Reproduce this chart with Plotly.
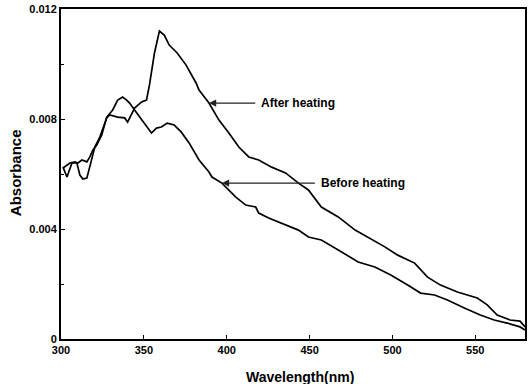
import plotly.graph_objects as go

# Wavelength (nm) and absorbance values
after_x = [301.2, 303.6, 306.6, 309.6, 311.4, 313.2, 315.6, 317.4, 320.4, 323.4, 327.6, 329.4,
           334.2, 338.4, 340.2, 344.4, 348.6, 351.6, 353.4, 356.4, 359.4, 362.3, 365.3, 370.1,
           375.5, 381.5, 383.3, 389.3, 395.3, 401.3, 407.3, 413.3, 419.3, 427.1, 435.5, 443.3,
           449.3, 457.1, 467.3, 477.5, 485.2, 495.4, 503.2, 513.4, 521.2, 529.0, 539.2, 551.2,
           557.2, 563.2, 571.0, 577.0, 580.0]
after_y = [0.00625, 0.00589, 0.00640, 0.00640, 0.00596, 0.00582, 0.00585, 0.00625, 0.00698,
           0.00734, 0.00804, 0.00815, 0.00807, 0.00804, 0.00789, 0.00840, 0.00862, 0.00869,
           0.00924, 0.01040, 0.01120, 0.01105, 0.01069, 0.01040, 0.00996, 0.00931, 0.00905,
           0.00858, 0.00796, 0.00749, 0.00698, 0.00662, 0.00651, 0.00625, 0.00604, 0.00567,
           0.00542, 0.00480, 0.00444, 0.00396, 0.00371, 0.00335, 0.00305, 0.00276, 0.00225,
           0.00196, 0.00171, 0.00149, 0.00124, 0.00087, 0.00069, 0.00065, 0.00044]

before_x = [301.2, 305.4, 308.4, 310.2, 312.6, 315.6, 317.4, 319.2, 321.6, 324.6, 327.6, 331.2,
            334.2, 337.2, 339.6, 341.4, 344.4, 347.4, 349.2, 354.6, 357.6, 360.6, 364.1, 368.3,
            372.5, 377.3, 383.3, 389.3, 391.1, 397.1, 405.5, 411.5, 417.5, 419.3, 425.3, 434.3,
            443.3, 449.3, 457.1, 467.3, 479.3, 489.4, 499.0, 509.2, 517.0, 525.4, 533.2, 543.4,
            553.0, 561.4, 569.2, 577.0, 580.0]
before_y = [0.00622, 0.00640, 0.00644, 0.00640, 0.00651, 0.00644, 0.00662, 0.00687, 0.00705,
            0.00742, 0.00807, 0.00833, 0.00869, 0.00880, 0.00869, 0.00858, 0.00833, 0.00807,
            0.00796, 0.00749, 0.00767, 0.00771, 0.00785, 0.00778, 0.00753, 0.00713, 0.00651,
            0.00607, 0.00589, 0.00567, 0.00516, 0.00487, 0.00480, 0.00458, 0.00440, 0.00418,
            0.00396, 0.00371, 0.00360, 0.00324, 0.00280, 0.00262, 0.00233, 0.00196, 0.00167,
            0.00160, 0.00142, 0.00113, 0.00087, 0.00069, 0.00058, 0.00044, 0.00033]

x_ticks = [300, 350, 400, 450, 500, 550]
x_tick_text = ["300", "350", "400", "450", "500", "550"]
y_ticks = [0, 0.004, 0.008, 0.012]
y_tick_text = ["0", "0.004", "0.008", "0.012"]

labels = ["After heating", "Before heating"]
label_y = [0.00858, 0.00567]
arrow_head_x = [389.3, 397.1]
arrow_tail_x = [418.1, 454.1]

FONT = "Liberation Sans"

fig = go.Figure()
fig.add_trace(go.Scatter(x=after_x, y=after_y, mode="lines", line=dict(color="black", width=1.7),
                         name="After heating", showlegend=False))
fig.add_trace(go.Scatter(x=before_x, y=before_y, mode="lines", line=dict(color="black", width=1.7),
                         name="Before heating", showlegend=False))

for txt, yv, hx, tx in zip(labels, label_y, arrow_head_x, arrow_tail_x):
    fig.add_annotation(x=hx, y=yv, ax=tx, ay=yv, xref="x", yref="y", axref="x", ayref="y",
                       text="", showarrow=True, arrowhead=2, arrowsize=1.2, arrowwidth=1.2,
                       arrowcolor="#222")
    fig.add_annotation(x=tx + 1.5, y=yv, xref="x", yref="y", text=txt, showarrow=False,
                       xanchor="left", yanchor="middle",
                       font=dict(family=FONT, size=12, color="black", weight="bold"))

# axis titles placed as annotations to match the reference position
fig.add_annotation(x=444, y=-0.115, xref="x", yref="paper", text="Wavelength(nm)",
                   showarrow=False, xanchor="center", yanchor="middle",
                   font=dict(family=FONT, size=14, color="black", weight="bold"))
fig.add_annotation(x=-46, y=0.503, xref="paper", yref="paper", xshift=0, text="Absorbance",
                   showarrow=False, textangle=-90, xanchor="center", yanchor="middle",
                   font=dict(family=FONT, size=15, color="black", weight="bold"))

fig.update_layout(
    width=530, height=384,
    margin=dict(l=61, r=3, t=9, b=45),
    paper_bgcolor="white", plot_bgcolor="white",
    font=dict(family=FONT, color="black"),
)
# put the y title at pixel x ~15: convert via paper fraction of plot width (466 px)
fig.layout.annotations[-1].x = (15 - 61) / 466

fig.update_xaxes(range=[300, 580], tickvals=x_ticks, ticktext=x_tick_text,
                 ticks="inside", ticklen=4, tickwidth=1, tickcolor="black",
                 showline=True, linecolor="black", linewidth=2, mirror=True,
                 showgrid=False, zeroline=False,
                 tickfont=dict(family=FONT, size=11, weight="bold"))
fig.update_yaxes(range=[0, 0.012], tickvals=y_ticks, ticktext=y_tick_text,
                 ticks="inside", ticklen=4, tickwidth=1, tickcolor="black",
                 minor=dict(tickvals=[0.002, 0.006, 0.010], ticks="inside", ticklen=3,
                            tickcolor="black"),
                 showline=True, linecolor="black", linewidth=2, mirror=True,
                 showgrid=False, zeroline=False,
                 tickfont=dict(family=FONT, size=11, weight="bold"))

fig.write_html("out.html")
